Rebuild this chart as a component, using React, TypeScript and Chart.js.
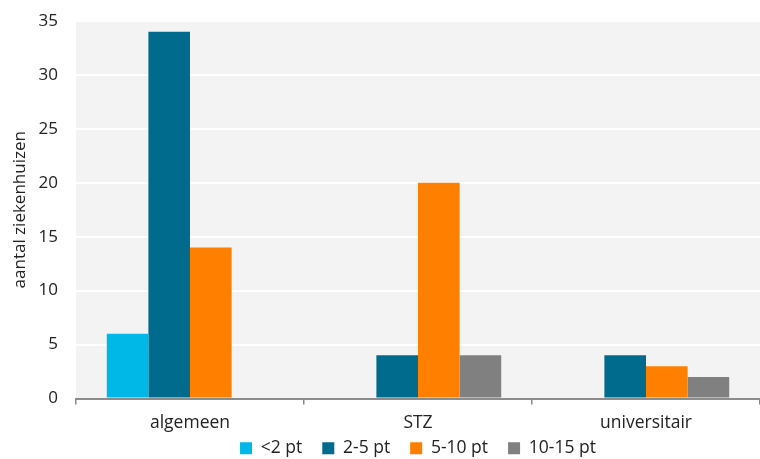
import React, { useEffect, useRef } from "react";
import { Chart, registerables } from "chart.js";

Chart.register(...registerables);

const categories = ["algemeen", "STZ", "universitair"];
const seriesNames = ["<2 pt", "2-5 pt", "5-10 pt", "10-15 pt"];
const lt2 = [6, 0, 0];
const v2to5 = [34, 4, 4];
const v5to10 = [14, 20, 3];
const v10to15 = [0, 4, 2];
const colors = ["#00b8e8", "#006b8c", "#ff7f00", "#808080"];
const yTicks = [0, 5, 10, 15, 20, 25, 30, 35];
const FONT = "'Open Sans'";

const bgPlugin = {
  id: "plotBg",
  afterLayout(chart: any) {
    const lg = chart.legend;
    if (lg) {
      const shift = (chart.chartArea.left + chart.chartArea.right) / 2 - (lg.left + lg.right) / 2;
      lg.left += shift;
      lg.right += shift;
      lg.top -= 22;
      lg.bottom -= 22;
    }
  },
  beforeDraw(chart: any) {
    const { ctx, chartArea } = chart;
    ctx.save();
    ctx.fillStyle = "#f3f3f3";
    ctx.fillRect(chartArea.left, chartArea.top, chartArea.right - chartArea.left, chartArea.bottom - chartArea.top);
    ctx.restore();
  },
};

export default function App() {
  const ref = useRef<HTMLCanvasElement>(null);
  useEffect(() => {
    const values = [lt2, v2to5, v5to10, v10to15];
    const chart = new Chart(ref.current!, {
      type: "bar",
      data: {
        labels: categories,
        datasets: seriesNames.map((n, i) => ({
          label: n,
          data: values[i],
          backgroundColor: colors[i],
          borderWidth: 0,
          categoryPercentage: 0.73,
          barPercentage: 1,
        })),
      },
      options: {
        animation: false,
        responsive: false,
        maintainAspectRatio: false,
        layout: { padding: { left: 10, right: 0, top: 21, bottom: -30 } },
        plugins: {
          legend: {
            position: "bottom",
            labels: {
              boxWidth: 12,
              boxHeight: 12,
              padding: 20,
              color: "#222",
              font: { family: FONT, size: 17.5 },
            },
          },
          tooltip: { enabled: false },
        },
        scales: {
          x: {
            grid: {
              display: true,
              drawOnChartArea: false,
              drawTicks: true,
              tickLength: 6,
              color: "#8c8c8c",
              lineWidth: 1.5,
              offset: true,
            },
            border: { display: true, color: "#8c8c8c", width: 2 },
            ticks: { color: "#222", font: { family: FONT, size: 17.5 }, padding: 8 },
          },
          y: {
            min: 0,
            max: 35,
            afterFit: (s: any) => {
              s.width = 66;
              s.paddingTop = 0;
              s.paddingBottom = 0;
            },
            afterBuildTicks: (axis: any) => {
              axis.ticks = yTicks.map((v) => ({ value: v }));
            },
            grid: { color: "#ffffff", lineWidth: 2, drawTicks: false },
            border: { display: false },
            ticks: { color: "#222", font: { family: FONT, size: 17 }, padding: 18 },
            title: {
              display: true,
              text: "aantal ziekenhuizen",
              color: "#222",
              font: { family: FONT, size: 17 },
              padding: { top: 0, bottom: 4 },
            },
          },
        },
      },
      plugins: [bgPlugin],
    });
    return () => chart.destroy();
  }, []);
  return (
    <div style={{ position: "fixed", left: 0, top: 0, width: 760, height: 459 }}>
      <canvas ref={ref} width={760} height={459} style={{ width: 760, height: 459 }} />
    </div>
  );
}
